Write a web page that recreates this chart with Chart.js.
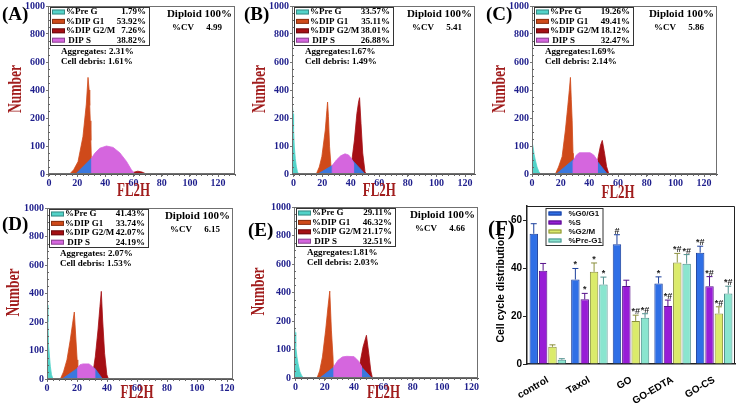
<!DOCTYPE html>
<html>
<head>
<meta charset="utf-8">
<script src="https://cdn.jsdelivr.net/npm/chart.js@4.4.1/dist/chart.umd.min.js"></script>
<style>
  html, body { margin: 0; padding: 0; background: #fff; }
  #wrap { position: relative; width: 738px; height: 404px; overflow: hidden; background: #fff; }
  #wrap canvas { position: absolute; }
  .tag { position: absolute; z-index: 5; font: bold 19px "Liberation Serif", serif; line-height: 19px; color: #000; white-space: nowrap; }
</style>
</head>
<body>
<div id="wrap">
  <canvas id="cA" width="245" height="200" style="left:0px;top:0px"></canvas>
  <canvas id="cB" width="245" height="200" style="left:245px;top:0px"></canvas>
  <canvas id="cC" width="248" height="200" style="left:490px;top:0px"></canvas>
  <canvas id="cD" width="245" height="204" style="left:0px;top:200px"></canvas>
  <canvas id="cE" width="245" height="204" style="left:245px;top:200px"></canvas>
  <canvas id="cF" width="248" height="204" style="left:490px;top:200px"></canvas>
  <div class="tag" style="left:2px;top:4px">(A)</div>
  <div class="tag" style="left:244px;top:4px">(B)</div>
  <div class="tag" style="left:486px;top:4px">(C)</div>
  <div class="tag" style="left:2px;top:214px">(D)</div>
  <div class="tag" style="left:248px;top:220px">(E)</div>
  <div class="tag" style="left:488px;top:219px;font-size:21px">(F)</div>
</div>
<script>
// ---- histogram panels (A)-(E) ----
// the Number axis is not linear: its ticks are spaced evenly
const countTicks = [0, 100, 200, 400, 600, 800, 1000];
const fl2hTicks = [0, 20, 40, 60, 80, 100, 120];

const phaseNames = ['%Pre G', '%DIP G1', '%DIP G2/M', ' DIP S'];
const preGPct = ['1.79%', '33.57%', '19.26%', '41.43%', '29.11%'];
const g1Pct = ['53.92%', '35.11%', '49.41%', '33.74%', '46.32%'];
const g2mPct = ['7.26%', '38.01%', '18.12%', '42.07%', '21.17%'];
const sPct = ['38.82%', '26.88%', '32.47%', '24.19%', '32.51%'];
const cvValues = ['4.99', '5.41', '5.86', '6.15', '4.66'];
const aggregatesText = ['Aggregates: 2.31%', 'Aggregates:1.67%', 'Aggregates:1.69%', 'Aggregates: 2.07%', 'Aggregates:1.81%'];
const debrisText = ['Cell debris: 1.61%', 'Cell debris: 1.49%', 'Cell debris: 2.14%', 'Cell debris: 1.53%', 'Cell debris: 2.03%'];

// traced outlines [FL2H, count] for each panel A..E
const preGCurve = [
  [],
  [[-1, 320], [-0.4, 230], [0, 160], [0.5, 100], [1.2, 55], [1.9, 28], [2.7, 8], [3.5, 0]],
  [[-0.5, 130], [0, 115], [0.7, 98], [1.5, 70], [2.3, 50], [3.5, 25], [4.8, 8], [6, 0]],
  [[0, 320], [0.6, 200], [1.1, 115], [2.2, 45], [3, 15], [4, 0]],
  [[-1, 200], [-0.3, 160], [0.2, 110], [1, 75], [1.8, 50], [3, 22], [4.1, 10], [5.3, 0]]
];
const g1Curve = [
  [[14.7, 0], [17.5, 15], [20.6, 44], [24.1, 133], [26.5, 300], [27.7, 490], [28.5, 400], [28.9, 290], [29.3, 190], [29.7, 120], [30.1, 56], [30.2, 0]],
  [[15.9, 0], [18, 25], [19.8, 62], [22.2, 157], [23.3, 254], [23.8, 314], [24.4, 210], [25.2, 97], [26.2, 27], [27, 0]],
  [[16.3, 0], [18.5, 25], [21, 62], [23.3, 157], [24.9, 278], [26, 396], [26.8, 490], [27.4, 330], [28, 192], [28.6, 74], [28.7, 0]],
  [[8.9, 0], [11, 25], [13.3, 67], [15.5, 137], [17.1, 196], [18.2, 270], [19.3, 137], [20.1, 67], [20.5, 0]],
  [[14.7, 0], [16.5, 25], [18.4, 74], [20.6, 168], [22.2, 300], [23.4, 410], [24.5, 168], [25.6, 74], [26.1, 0]]
];
const g2mCurve = [
  [[57, 0], [60, 6], [63, 10], [66, 7], [69, 0]],
  [[39.6, 0], [42.6, 121], [44.3, 230], [45.5, 314], [46.2, 345], [47.2, 180], [48.4, 75], [50, 8], [50.8, 0]],
  [[44.3, 0], [46.2, 62], [47.8, 103], [49, 120], [50.6, 74], [52, 27], [53.6, 0]],
  [[30, 0], [32.2, 78], [34, 172], [35.3, 308], [36.2, 415], [37.1, 214], [38.4, 90], [39.9, 15], [41, 0]],
  [[41.6, 0], [43.9, 50], [46.1, 109], [48.4, 150], [50, 86], [51.4, 25], [52.5, 0]]
];
const sCurve = [
  [[30.1, 0], [30.1, 56], [32.5, 74], [36, 92], [40.8, 100], [45.5, 95], [50.2, 76], [55, 45], [58.5, 15], [60.5, 3], [61, 0]],
  [[27, 0], [27, 30], [30, 50], [33, 65], [36, 72], [38.5, 68], [40.5, 55], [42, 40], [42, 0]],
  [[28.6, 0], [28.6, 45], [31, 68], [33, 76], [40.5, 76], [43, 68], [45.5, 50], [45.5, 0]],
  [[20.4, 0], [20.4, 40], [22, 50], [24, 53], [28, 53], [30, 45], [31.8, 35], [31.8, 0]],
  [[26.1, 0], [26.1, 40], [29, 62], [32, 74], [35, 76], [40, 75], [42.5, 62], [45, 42], [45, 0]]
];
// blue S-phase base under the peaks
const sBase = [
  [[19, 0], [30.1, 56], [30.2, 0]],
  [[17, 0], [27, 30], [35, 45], [39, 52], [41, 50], [50, 0]],
  [[17, 0], [28.6, 50], [36, 60], [44, 55], [52.5, 0]],
  [[10, 0], [20.4, 38], [26, 45], [31.8, 38], [37, 0]],
  [[16.6, 0], [26.1, 38], [35, 48], [43, 50], [52, 0]]
];

const colPreG = '#52d3c9';
const colG1 = '#cf4a1a';
const colG2m = '#a50f14';
const colS = '#d566de';
const colBase = '#3a78de';
const phaseColors = [colPreG, colG1, colG2m, colS];

// canvas layout of each histogram panel
const histLayout = [
  { id: 'cA', yW: 48, xH: 26, padR: 10, padT: 5, padB: 0, numX: 16, fl2hY: 191.5, xMin: -0.7, xMax: 132 },
  { id: 'cB', yW: 47, xH: 26, padR: 15, padT: 5, padB: 0, numX: 15, fl2hY: 191.5, xMin: -1.1, xMax: 127 },
  { id: 'cC', yW: 42, xH: 26, padR: 21, padT: 5, padB: 0, numX: 10, fl2hY: 193, xMin: 0, xMax: 129 },
  { id: 'cD', yW: 47, xH: 25, padR: 12, padT: 8, padB: 0, numX: 14, fl2hY: 193, xMin: 0, xMax: 124 },
  { id: 'cE', yW: 49, xH: 26, padR: 12, padT: 7, padB: 0, numX: 14, fl2hY: 193, xMin: -1, xMax: 124.5 }
];

function countToPos(v) {
  for (let i = 0; i < countTicks.length - 1; i++) {
    if (v <= countTicks[i + 1]) return i + (v - countTicks[i]) / (countTicks[i + 1] - countTicks[i]);
  }
  return countTicks.length - 1;
}

class CountScale extends Chart.LinearScale {
  buildTicks() { return countTicks.map(v => ({ value: v })); }
  getPixelForValue(v) { return this.getPixelForDecimal(countToPos(v) / (countTicks.length - 1)); }
}
CountScale.id = 'count';
CountScale.defaults = {};
Chart.register(CountScale);

const serif = '"Liberation Serif", "Times New Roman", serif';
const sans = '"Liberation Sans", Arial, sans-serif';

const flowNotes = {
  id: 'flowNotes',
  afterDraw(chart, args, o) {
    const i = o.idx;
    const L = histLayout[i];
    const { ctx, chartArea: a } = chart;
    const xs = chart.scales.x, ys = chart.scales.y;
    ctx.save();
    ctx.strokeStyle = '#707070';
    ctx.lineWidth = 1;
    ctx.strokeRect(a.left + 0.5, a.top + 0.5, a.right - a.left - 1, a.bottom - a.top - 1);

    // small ticks along both axes
    ctx.strokeStyle = '#666';
    ctx.beginPath();
    for (let v = 0; v <= xs.max; v += 4) {
      const px = Math.round(xs.getPixelForValue(v)) + 0.5;
      ctx.moveTo(px, a.bottom);
      ctx.lineTo(px, a.bottom + 2);
    }
    for (let k = 0; k < countTicks.length - 1; k++) {
      for (let m = 1; m < 4; m++) {
        const py = Math.round(ys.getPixelForValue(countTicks[k] + (countTicks[k + 1] - countTicks[k]) * m / 4)) + 0.5;
        ctx.moveTo(a.left, py);
        ctx.lineTo(a.left + 2, py);
      }
    }
    ctx.stroke();

    // phase box
    const bx = a.left + 2, by = a.top + 1, bw = 99, bh = 38;
    ctx.fillStyle = '#fff';
    ctx.fillRect(bx, by, bw, bh);
    ctx.strokeStyle = '#333';
    ctx.strokeRect(bx + 0.5, by + 0.5, bw, bh);
    ctx.font = 'bold 9px ' + serif;
    ctx.textBaseline = 'middle';
    const vals = [preGPct[i], g1Pct[i], g2mPct[i], sPct[i]];
    phaseNames.forEach((name, r) => {
      const y = by + 5 + r * 9.4;
      ctx.fillStyle = phaseColors[r];
      ctx.fillRect(bx + 2, y - 2.5, 13, 5);
      ctx.strokeStyle = 'rgba(0,0,0,0.35)';
      ctx.strokeRect(bx + 2.5, y - 2, 12, 4);
      ctx.fillStyle = '#000';
      ctx.textAlign = 'left';
      ctx.fillText(name, bx + 16, y);
      ctx.textAlign = 'right';
      ctx.fillText(vals[r], bx + bw - 3, y);
    });

    ctx.font = 'bold 11px ' + serif;
    ctx.textAlign = 'right';
    ctx.fillText('Diploid 100%', a.right - 3, a.top + 8);
    ctx.font = 'bold 9px ' + serif;
    ctx.textAlign = 'left';
    ctx.fillText('%CV', a.right - 63, a.top + 22);
    ctx.textAlign = 'right';
    ctx.fillText(cvValues[i], a.right - 13, a.top + 22);
    ctx.textAlign = 'left';
    ctx.fillText(aggregatesText[i], bx + 11, a.top + 45.5);
    ctx.fillText(debrisText[i], bx + 11, a.top + 55.5);

    // axis titles, in the narrow lettering of the original
    ctx.fillStyle = '#a11d1d';
    ctx.textAlign = 'center';
    ctx.textBaseline = 'middle';
    ctx.save();
    ctx.translate(xs.getPixelForValue(60), L.fl2hY);
    ctx.scale(0.68, 1);
    ctx.font = 'bold 19px ' + serif;
    ctx.fillText('FL2H', 0, 0);
    ctx.restore();
    ctx.save();
    ctx.translate(L.numX, (a.top + a.bottom) / 2 - 1);
    ctx.rotate(-Math.PI / 2);
    ctx.scale(0.75, 1);
    ctx.font = 'bold 18px ' + serif;
    ctx.fillText('Number', 0, 0);
    ctx.restore();
    ctx.restore();
  }
};

function area(points, color) {
  return {
    data: points.map(p => ({ x: p[0], y: p[1] })),
    backgroundColor: color,
    borderColor: color,
    borderWidth: 0.8,
    pointRadius: 0,
    tension: 0,
    fill: 'origin'
  };
}

histLayout.forEach((L, i) => {
  new Chart(document.getElementById(L.id), {
    type: 'line',
    data: {
      // first dataset is painted last (on top)
      datasets: [
        area(sCurve[i], colS),
        area(sBase[i], colBase),
        area(preGCurve[i], colPreG),
        area(g2mCurve[i], colG2m),
        area(g1Curve[i], colG1)
      ]
    },
    plugins: [flowNotes],
    options: {
      responsive: false,
      animation: false,
      events: [],
      layout: { padding: { left: 0, right: L.padR, top: L.padT, bottom: L.padB } },
      plugins: { legend: { display: false }, tooltip: { enabled: false }, flowNotes: { idx: i } },
      scales: {
        x: {
          type: 'linear',
          min: L.xMin,
          max: L.xMax,
          afterBuildTicks: s => { s.ticks = fl2hTicks.map(v => ({ value: v })); },
          afterFit: s => { s.height = L.xH; },
          grid: { drawOnChartArea: false, tickLength: 3, color: '#777' },
          border: { color: '#555', width: 1 },
          ticks: { color: '#1e1e8c', padding: 1, font: { family: serif, weight: 'bold', size: 10, lineHeight: 1 }, callback: v => String(v) }
        },
        y: {
          type: 'count',
          min: 0,
          max: 1000,
          afterFit: s => { s.width = L.yW; },
          grid: { drawOnChartArea: false, tickLength: 2, color: '#777' },
          border: { color: '#555', width: 1 },
          ticks: { color: '#1e1e8c', padding: 1, font: { family: serif, weight: 'bold', size: 10, lineHeight: 1 }, callback: v => String(v) }
        }
      }
    }
  });
});

// ---- panel (F): cell cycle distribution ----
const groups = ['control', 'Taxol', 'GO', 'GO-EDTA', 'GO-CS'];
const seriesNames = ['%G0/G1', '%S', '%G2/M', '%Pre-G1'];
const g0g1Vals = [54.4, 35.3, 50, 33.6, 46.5];
const sVals = [39, 27, 32.6, 24.2, 32.5];
const g2mVals = [7.2, 38.5, 18, 42.4, 21.1];
const preG1Vals = [1.8, 33.2, 19.3, 41.9, 29.4];
const g0g1Err = [4.2, 4.6, 4, 2.8, 2.7];
const sErr = [3, 2.5, 2.4, 2.5, 4];
const g2mErr = [0.8, 3.7, 2.4, 3.8, 2.8];
const preG1Err = [0.4, 3.1, 1.7, 3.8, 3.1];
const g0g1Sig = ['', '*', '#', '*', '*#'];
const sSig = ['', '*', '', '*#', '*#'];
const g2mSig = ['', '*', '*#', '*#', '*#'];
const preG1Sig = ['', '*', '*#', '*#', '*#'];
const fTicks = [0, 20, 40, 60];

const barFill = ['#2f6fe6', '#981dd6', '#dbeb6b', '#8ae5cf'];
const barEdge = ['#1b3f9c', '#56108a', '#8a8f3c', '#4d8f8c'];

const errorBars = {
  id: 'errorBars',
  afterDatasetsDraw(chart) {
    const { ctx } = chart;
    const yScale = chart.scales.y;
    ctx.save();
    chart.data.datasets.forEach((ds, d) => {
      const meta = chart.getDatasetMeta(d);
      meta.data.forEach((bar, j) => {
        const top = yScale.getPixelForValue(ds.data[j] + ds.err[j]);
        ctx.strokeStyle = barEdge[d];
        ctx.lineWidth = 1;
        ctx.beginPath();
        ctx.moveTo(bar.x, bar.y);
        ctx.lineTo(bar.x, top);
        ctx.moveTo(bar.x - 3, top);
        ctx.lineTo(bar.x + 3, top);
        ctx.stroke();
        if (ds.sig[j]) {
          ctx.fillStyle = '#222';
          ctx.font = 'bold 9px ' + sans;
          ctx.textAlign = 'center';
          ctx.textBaseline = 'bottom';
          ctx.fillText(ds.sig[j], bar.x, top + 1);
        }
      });
    });
    ctx.restore();
  },
  afterDraw(chart) {
    const { ctx, chartArea: a } = chart;
    ctx.save();
    ctx.strokeStyle = '#222';
    ctx.lineWidth = 1;
    ctx.beginPath();
    ctx.moveTo(a.left, a.top + 0.5);
    ctx.lineTo(a.right - 0.5, a.top + 0.5);
    ctx.lineTo(a.right - 0.5, a.bottom);
    ctx.stroke();
    // legend box
    const bx = a.left + 18.5, by = a.top + 2, bw = 57, bh = 37;
    ctx.strokeStyle = '#333';
    ctx.strokeRect(bx + 0.5, by + 0.5, bw, bh);
    ctx.font = 'bold 8px ' + sans;
    ctx.textBaseline = 'middle';
    ctx.textAlign = 'left';
    seriesNames.forEach((name, r) => {
      const y = by + 5.5 + r * 9;
      ctx.fillStyle = barFill[r];
      ctx.fillRect(bx + 3, y - 2, 13, 4);
      ctx.strokeStyle = barEdge[r];
      ctx.strokeRect(bx + 3.5, y - 1.5, 12, 3);
      ctx.fillStyle = '#111';
      ctx.fillText(name, bx + 23, y);
    });
    // y title, centred a little below the plot middle as in the original
    ctx.save();
    ctx.translate(11.5, 88);
    ctx.rotate(-Math.PI / 2);
    ctx.fillStyle = '#000';
    ctx.font = 'bold 10.5px ' + sans;
    ctx.textAlign = 'center';
    ctx.fillText('Cell cycle distribution', 0, 0);
    ctx.restore();
    ctx.restore();
  }
};

const barValues = [g0g1Vals, sVals, g2mVals, preG1Vals];
const barErrs = [g0g1Err, sErr, g2mErr, preG1Err];
const barSigs = [g0g1Sig, sSig, g2mSig, preG1Sig];

new Chart(document.getElementById('cF'), {
  type: 'bar',
  data: {
    labels: groups,
    datasets: seriesNames.map((name, d) => ({
      label: name,
      data: barValues[d],
      err: barErrs[d],
      sig: barSigs[d],
      backgroundColor: barFill[d],
      borderColor: barEdge[d],
      borderWidth: 1,
      categoryPercentage: 0.9,
      barPercentage: 0.9
    }))
  },
  plugins: [errorBars],
  options: {
    responsive: false,
    animation: false,
    events: [],
    layout: { padding: { left: 0, right: 3, top: 5, bottom: 0 } },
    plugins: { legend: { display: false }, tooltip: { enabled: false } },
    scales: {
      x: {
        afterFit: s => { s.height = 40; },
        grid: { display: false },
        border: { color: '#222', width: 1.5 },
        ticks: { color: '#000', padding: 2, minRotation: 30, maxRotation: 30, font: { family: sans, weight: 'bold', size: 10 } }
      },
      y: {
        min: 0,
        max: 66,
        afterBuildTicks: s => { s.ticks = fTicks.map(v => ({ value: v })); },
        afterFit: s => { s.width = 37; },
        grid: { drawOnChartArea: false, tickLength: 4, color: '#222' },
        border: { color: '#222', width: 1.5 },
        ticks: { color: '#000', padding: 1, font: { family: sans, weight: 'bold', size: 10, lineHeight: 1 } }
      }
    }
  }
});
</script>
</body>
</html>
